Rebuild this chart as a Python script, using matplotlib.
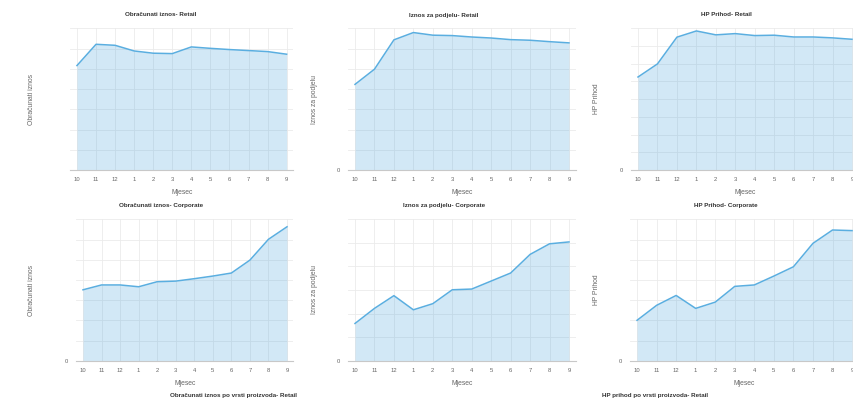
import matplotlib
matplotlib.use("Agg")
import matplotlib.pyplot as plt

plt.rcParams['font.family'] = ['Liberation Sans', 'DejaVu Sans']

# mjeseci (kategorije na x osi)
mjeseci = ["10", "11", "12", "1", "2", "3", "4", "5", "6", "7", "8", "9"]

# vrijednosti ocitane sa slike (u jedinicama razmaka mreze, stvarni iznosi skriveni)
obr_retail = [5.16, 6.21, 6.16, 5.88, 5.77, 5.75, 6.08, 6.01, 5.95, 5.90, 5.85, 5.72]
podj_retail = [4.23, 4.98, 6.43, 6.79, 6.66, 6.64, 6.57, 6.52, 6.44, 6.41, 6.34, 6.28]
hp_retail = [5.25, 5.99, 7.50, 7.85, 7.63, 7.70, 7.59, 7.61, 7.51, 7.51, 7.46, 7.38]
obr_corp = [3.51, 3.75, 3.75, 3.66, 3.91, 3.94, 4.06, 4.19, 4.34, 4.98, 6.01, 6.63]
podj_corp = [1.58, 2.22, 2.76, 2.16, 2.42, 3.01, 3.04, 3.38, 3.72, 4.51, 4.96, 5.04]
hp_corp = [2.00, 2.74, 3.23, 2.59, 2.90, 3.68, 3.75, 4.19, 4.65, 5.81, 6.47, 6.44]

naslovi = ["Obračunati iznos- Retail", "Iznos za podjelu- Retail", "HP Prihod- Retail",
           "Obračunati iznos- Corporate", "Iznos za podjelu- Corporate", "HP Prihod- Corporate"]
y_oznake = ["Obračunati iznos", "Iznos za podjelu", "HP Prihod",
            "Obračunati iznos", "Iznos za podjelu", "HP Prihod"]
serije = [obr_retail, podj_retail, hp_retail, obr_corp, podj_corp, hp_corp]
y_max = [7, 7, 8, 7, 6, 7]
pokazi_nulu = [False, True, True, True, True, True]

W, H = 854, 401
fig = plt.figure(figsize=(W / 100, H / 100), dpi=100)

# polozaj grafova u pikselima: lijevo, sirina, vrh, dno
polozaji = [(70.3, 223, 28.3, 170), (348.2, 227.6, 28.3, 170), (631.2, 227.6, 28.3, 170),
            (76.5, 217, 219.3, 360.7), (348.2, 227.6, 219.3, 360.7), (630.2, 228.7, 219.3, 360.7)]
naslov_x = [161, 444, 726, 161, 444, 726]
ylab_x = [32, 315, 597, 32, 315, 597]

linija = "#5aaee0"
ispuna = "#4ea5dc"

for i in range(6):
    l, w, t, b = polozaji[i]
    ax = fig.add_axes([l / W, 1 - b / H, w / W, (b - t) / H])
    x = range(len(mjeseci))
    ax.fill_between(x, serije[i], 0, color=ispuna, alpha=0.25, lw=0, zorder=2)
    ax.plot(x, serije[i], color=linija, lw=1.1, zorder=3)
    ax.set_xlim(-0.35, 11.35)
    ax.set_ylim(0, y_max[i])
    ax.set_xticks(list(x))
    ax.set_xticklabels(mjeseci)
    ax.set_yticks(range(y_max[i] + 1))
    ax.set_yticklabels(["0" if pokazi_nulu[i] else ""] + [""] * y_max[i])
    ax.grid(True, color="#ebebeb", lw=0.6, zorder=0)
    ax.set_axisbelow(True)
    for s in ["top", "right", "left"]:
        ax.spines[s].set_visible(False)
    ax.spines["bottom"].set_color("#c8c8c8")
    ax.spines["bottom"].set_linewidth(0.8)
    ax.tick_params(length=0, labelsize=4.2, colors="#666666", pad=5)
    ax.tick_params(axis="y", pad=6)
    ax.set_xlabel("Mjesec", fontsize=4.9, color="#666666", labelpad=5)
    fig.text(naslov_x[i] / W, 1 - (t - 13.3) / H, naslovi[i], ha="center", va="center",
             fontsize=4.5, fontweight="bold", color="#333333")
    fig.text(ylab_x[i] / W, 1 - ((t + b) / 2) / H, y_oznake[i], ha="center", va="center",
             rotation=90, fontsize=4.9, color="#666666")

fig.text(233 / W, 1 - 396 / H, "Obračunati iznos po vrsti proizvoda- Retail", ha="center",
         va="center", fontsize=4.5, fontweight="bold", color="#333333")
fig.text(655 / W, 1 - 396 / H, "HP prihod po vrsti proizvoda- Retail", ha="center",
         va="center", fontsize=4.5, fontweight="bold", color="#333333")

fig.savefig("out.png", dpi=100)
